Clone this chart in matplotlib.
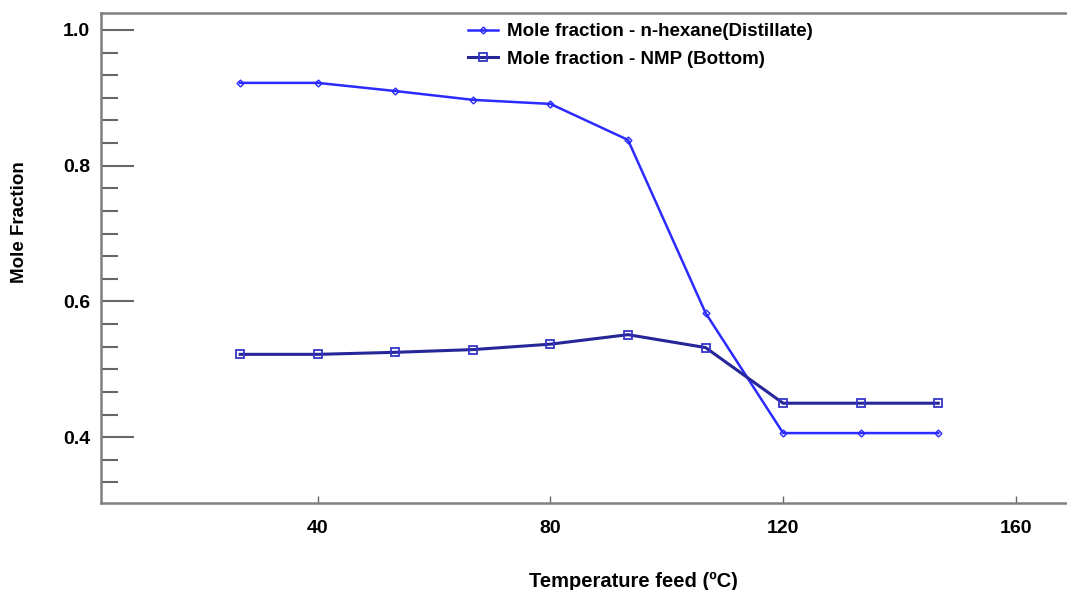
"""Mole fraction of distillate and bottom product versus feed temperature."""

import matplotlib
matplotlib.use("Agg")
import matplotlib.pyplot as plt
import numpy as np
from matplotlib.ticker import MultipleLocator

plt.rcParams['font.family'] = ['Liberation Sans', 'DejaVu Sans']

# Data
temp_feed = [26.67, 40, 53.33, 66.67, 80, 93.33, 106.67, 120, 133.33, 146.67]
x_hexane_distillate = [0.922, 0.922, 0.910, 0.897, 0.891, 0.838, 0.583, 0.406, 0.406, 0.406]
x_nmp_bottom = [0.522, 0.522, 0.525, 0.529, 0.537, 0.551, 0.532, 0.450, 0.450, 0.450]

fig = plt.figure(figsize=(10.67, 5.9), dpi=100)
ax = fig.add_axes([0.0947, 0.1475, 0.9053, 0.8305])

ax.plot(temp_feed, x_hexane_distillate, color='#2b2bff', linewidth=1.8,
        marker='D', markersize=3.5, markerfacecolor='none', markeredgewidth=1,
        label='Mole fraction - n-hexane(Distillate)')
ax.plot(temp_feed, x_nmp_bottom, color='#262699', linewidth=2.2,
        marker='s', markersize=5.5, markerfacecolor='none', markeredgecolor='#3535c8',
        markeredgewidth=1.3, label='Mole fraction - NMP (Bottom)')

ax.set_xlim(2.75, 168.8)
ax.set_ylim(0.303, 1.025)

ax.xaxis.set_major_locator(MultipleLocator(40))
ax.yaxis.set_minor_locator(MultipleLocator(0.2 / 6))
ax.set_yticks([0.4, 0.6, 0.8, 1.0])
ax.set_yticklabels(['0.4', '0.6', '0.8', '1.0'])

ax.tick_params(axis='y', which='major', direction='in', length=24, width=1.5,
               color='#666666', labelsize=14, pad=8)
ax.tick_params(axis='y', which='minor', direction='in', length=12, width=1.5,
               color='#666666')
ax.tick_params(axis='x', which='major', direction='in', length=5, width=1,
               color='#666666', labelsize=14, pad=12)
for lbl in ax.get_xticklabels() + ax.get_yticklabels():
    lbl.set_fontweight('bold')

for side in ['left', 'bottom', 'top']:
    ax.spines[side].set_color('#808080')
    ax.spines[side].set_linewidth(1.8)
ax.spines['right'].set_visible(False)

ax.set_ylabel('Mole Fraction', fontsize=13.5, fontweight='bold', va='center')
ax.yaxis.set_label_coords(-0.084, 0.573)
ax.set_xlabel('Temperature feed (ºC)', fontsize=14.5, fontweight='bold', va='center')
ax.xaxis.set_label_coords(0.551, -0.16)

leg = ax.legend(loc='upper left', bbox_to_anchor=(0.38, 0.979), frameon=False,
                prop={'weight': 'bold', 'size': 13.5}, handlelength=1.6,
                handletextpad=0.45, labelspacing=0.55, borderaxespad=0, borderpad=0)

plt.savefig('out.png', dpi=100)
